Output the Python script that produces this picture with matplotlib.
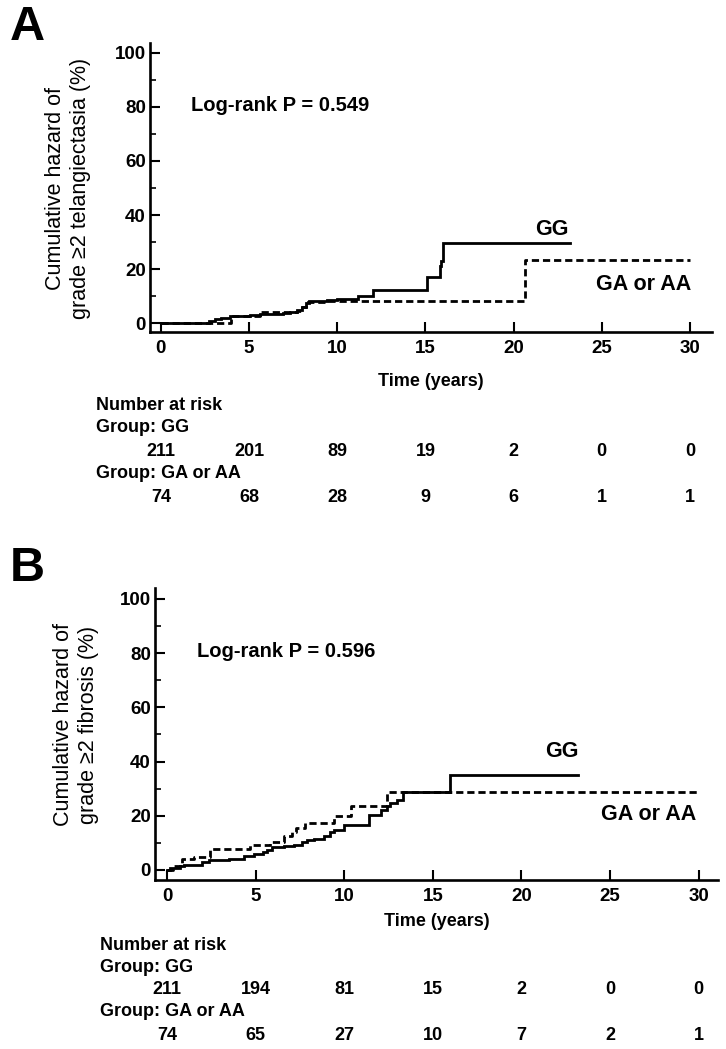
import matplotlib
matplotlib.use("Agg")
import matplotlib.pyplot as plt
import matplotlib.transforms as mtransforms
import numpy as np

plt.rcParams['font.family'] = ['Liberation Sans', 'DejaVu Sans']

# panel A: grade >=2 telangiectasia, cumulative hazard (%)
a_gg_t = [0, 2.7, 3.05, 3.4, 3.9, 5.05, 5.6, 6.95, 7.3, 7.7, 8.0, 8.2, 8.4, 9.4, 10.0, 11.2, 12.0, 15.1, 15.8, 15.9, 16.0, 23.2]
a_gg_h = [0, 0.8, 1.3, 2.0, 2.5, 2.8, 3.3, 3.7, 4.1, 4.7, 6.0, 7.4, 8.1, 8.6, 8.9, 10.0, 12.4, 17.1, 21.0, 23.0, 29.6, 29.6]
a_ga_t = [0, 4.0, 5.6, 7.7, 8.0, 8.2, 9.4, 20.65, 30.0]
a_ga_h = [0, 2.7, 3.9, 4.5, 6.0, 7.8, 8.3, 23.3, 23.3]

# panel B: grade >=2 fibrosis
b_gg_t = [0, 0.19, 0.47, 0.75, 0.94, 1.98, 2.35, 3.5, 4.33, 4.9, 5.4, 5.65, 5.95, 6.6, 7.16, 7.63, 7.9, 8.3,
          8.85, 9.2, 9.4, 10.0, 11.4, 12.05, 12.4, 12.6, 13.0, 13.3, 16.0, 23.2]
b_gg_h = [0, 0.6, 0.9, 1.5, 1.8, 3.0, 3.6, 4.2, 5.1, 5.8, 6.7, 7.5, 8.5, 8.8, 9.3, 10.3, 10.9, 11.5,
          12.4, 13.9, 14.8, 16.7, 20.2, 22.0, 23.6, 24.8, 25.8, 28.6, 35.0, 35.0]
b_ga_t = [0, 0.35, 0.85, 1.5, 2.45, 4.7, 5.8, 6.6, 7.06, 7.3, 7.8, 9.4, 10.4, 12.4, 30.0]
b_ga_h = [0, 1.5, 4.0, 4.8, 7.9, 9.3, 10.3, 12.4, 13.9, 15.4, 17.2, 20.0, 23.5, 28.8, 28.8]

risk_times = [0, 5, 10, 15, 20, 25, 30]
a_risk_gg = [211, 201, 89, 19, 2, 0, 0]
a_risk_ga = [74, 68, 28, 9, 6, 1, 1]
b_risk_gg = [211, 194, 81, 15, 2, 0, 0]
b_risk_ga = [74, 65, 27, 10, 7, 2, 1]

W, H = 726, 1049
fig = plt.figure(figsize=(W / 100, H / 100), dpi=100)


def fy(py):
    return 1 - py / H


def panel(rect, xlim, ylim, gg_t, gg_h, ga_t, ga_h, pval, gg_lab, ga_lab, ylab, ylab_xy,
          risk_gg, risk_ga, rows_y, time_y, letter, letter_y, table_x):
    ax = fig.add_axes(rect)
    ax.step(gg_t, gg_h, where='post', color='black', lw=2.0, solid_joinstyle='miter')
    ax.step(ga_t, ga_h, where='post', color='black', lw=2.0, linestyle=(0, (2.6, 1.4)))
    ax.set_xlim(*xlim)
    ax.set_ylim(*ylim)
    for s in ['top', 'right']:
        ax.spines[s].set_visible(False)
    for s in ['left', 'bottom']:
        ax.spines[s].set_linewidth(1.9)
    ax.set_xticks(risk_times)
    ax.set_yticks(np.arange(0, 101, 20))
    ax.set_yticks(np.arange(10, 100, 20), minor=True)
    ax.tick_params(direction='in', length=7, width=1.5, labelsize=13.5)
    ax.tick_params(which='minor', direction='in', length=4, width=1.2)
    ax.tick_params(axis='y', pad=3)
    ax.tick_params(axis='x', pad=6)
    for lab in ax.get_xticklabels() + ax.get_yticklabels():
        lab.set_fontweight('bold')

    ax.text(1.7, 78.4, 'Log-rank P = ' + pval, fontsize=14.5, fontweight='bold', va='baseline')
    ax.text(gg_lab[0], gg_lab[1], 'GG', fontsize=15.5, fontweight='bold', va='baseline')
    ax.text(ga_lab[0], ga_lab[1], 'GA or AA', fontsize=15.5, fontweight='bold', va='baseline')

    fig.text(ylab_xy[0] / W, fy(ylab_xy[1]), ylab, rotation=90, ha='center', va='center',
             fontsize=15.5, multialignment='center', linespacing=1.3)

    tr = mtransforms.blended_transform_factory(ax.transData, fig.transFigure)
    ax.text(np.mean(xlim), fy(time_y), 'Time (years)', transform=tr, ha='center', va='center',
            fontsize=13, fontweight='bold')
    labels = ['Number at risk', 'Group: GG', None, 'Group: GA or AA', None]
    for lab, yy in zip(labels, rows_y):
        if lab:
            fig.text(table_x / W, fy(yy), lab, ha='left', va='center', fontsize=13, fontweight='bold')
    for t, n1, n2 in zip(risk_times, risk_gg, risk_ga):
        ax.text(t, fy(rows_y[2]), str(n1), transform=tr, ha='center', va='center',
                fontsize=13, fontweight='bold')
        ax.text(t, fy(rows_y[4]), str(n2), transform=tr, ha='center', va='center',
                fontsize=13, fontweight='bold')

    fig.text(10 / W, fy(letter_y), letter, fontsize=35, fontweight='bold', ha='left', va='top')
    return ax


panel([150 / W, fy(332), 562 / W, 289 / H], (-0.62, 31.25), (-3.33, 103.7),
      a_gg_t, a_gg_h, a_ga_t, a_ga_h, '0.549', (21.2, 32.6), (24.7, 12.2),
      'Cumulative hazard of\ngrade \u22652 telangiectasia (%)', (68, 188),
      a_risk_gg, a_risk_ga, [405, 428, 451, 474, 497], 382, 'A', 5, 96)

panel([155 / W, fy(880), 563 / W, 292 / H], (-0.68, 31.1), (-3.7, 104),
      b_gg_t, b_gg_h, b_ga_t, b_ga_h, '0.596', (21.35, 41.5), (24.5, 18.4),
      'Cumulative hazard of\ngrade \u22652 fibrosis (%)', (76, 725),
      b_risk_gg, b_risk_ga, [945, 968, 990, 1012, 1035], 921, 'B', 546, 100)

fig.savefig('out.png', dpi=100)
